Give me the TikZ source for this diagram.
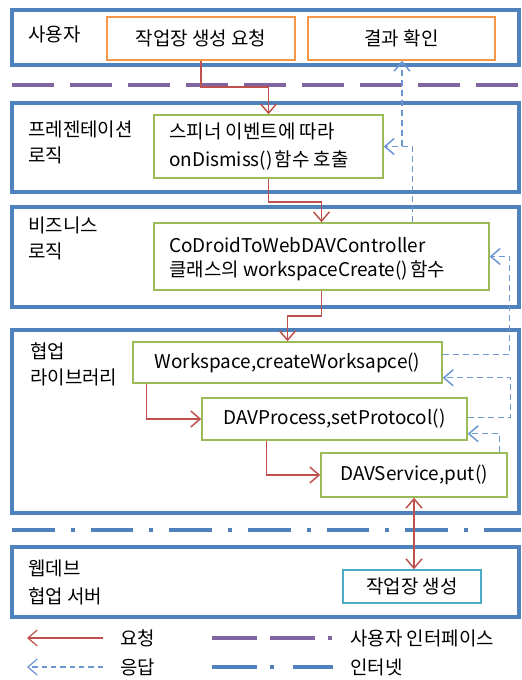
\documentclass[tikz,border=0pt]{standalone}
\usepackage{fontspec}
\setmainfont{Noto Sans CJK KR}
\usetikzlibrary{arrows.meta,fit,calc}
\definecolor{laneblue}{HTML}{4F81BD}
\definecolor{uipurple}{HTML}{8064A2}
\definecolor{reqred}{HTML}{C0504D}
\definecolor{resblue}{HTML}{6A97D2}
\definecolor{boxorange}{HTML}{F79646}
\definecolor{boxgreen}{HTML}{9BBB59}
\definecolor{boxcyan}{HTML}{4BACC6}
\begin{document}
\begin{tikzpicture}[x=0.75pt,y=-0.75pt,
  font=\fontsize{14.2}{19.5}\selectfont,
  lane/.style={draw=laneblue, line width=3pt, inner sep=0pt},
  obox/.style={draw=boxorange, line width=1.1pt, inner sep=0pt},
  gbox/.style={draw=boxgreen, line width=1.1pt, inner sep=0pt},
  cbox/.style={draw=boxcyan, line width=1.1pt, inner sep=0pt},
  lbl/.style={anchor=west, align=left, inner sep=0pt},
  txt/.style={inner sep=0pt},
  barb/.tip={Straight Barb[length=7pt,width=12pt]},
  req/.style={draw=reqred, line width=1.1pt, -barb},
  res/.style={draw=resblue, line width=1.1pt, dash pattern=on 4.5pt off 3pt, -barb},
  uiline/.style={draw=uipurple, line width=3.5pt, dash pattern=on 31.5pt off 12pt},
  netline/.style={draw=laneblue, line width=3.5pt, dash pattern=on 32pt off 12pt on 3pt off 12pt},
]
\useasboundingbox (0,0) rectangle (521,680);
\fill[white] (0,0) rectangle (521,680);

% lanes
\node[lane, fit={(12,10)(519,65)}] (lane1) {};
\node[lane, fit={(12,103)(519,192)}] (lane2) {};
\node[lane, fit={(12,207)(519,307)}] (lane3) {};
\node[lane, fit={(12,330)(519,513)}] (lane4) {};
\node[lane, fit={(12,547)(519,617)}] (lane5) {};

\node[lbl] (l1t) at (28,34) {사용자};
\node[lbl] (l2t) at (28,142) {프레젠테이션\\로직};
\node[lbl] (l3t) at (28,238) {비즈니스\\로직};
\node[lbl] (l4t) at (30,364) {협업\\라이브러리};
\node[lbl, font=\fontsize{14.2}{21}\selectfont] (l5t) at (28,582) {웹데브\\협업 서버};

% separators
\coordinate (ua) at (12,85);
\coordinate (ub) at (521,85);
\draw[uiline] (ua) -- (ub);
\coordinate (na) at (12,530);
\coordinate (nb) at (521,530);
\draw[netline] (na) -- (nb);

% boxes
\node[obox, fit={(107,17)(295,60)}] (reqb) {};
\node[txt] (reqt) at (reqb.center) {작업장 생성 요청};
\node[obox, fit={(308,17)(495,60)}] (resb) {};
\node[txt] (rest) at (resb.center) {결과 확인};

\node[gbox, fit={(154,115)(383,178)}] (g1) {};
\node[lbl, font=\fontsize{14.2}{20.5}\selectfont] (g1t) at (169,146.5) {스피너 이벤트에 따라\\onDismiss()\kern1.5pt함수 호출};

\node[gbox, fit={(154,223)(489,290)}] (b3) {};
\node[lbl, font=\fontsize{14.2}{18.5}\selectfont] (b3t) at (169,259) {CoDroidToWebDAVController\\클래스의 workspaceCreate()\kern1.5pt함수};

\node[gbox, fit={(133,342)(442,383)}] (ws) {};
\node[txt] (wst) at (ws.center) {Workspace,createWorksapce()};
\node[gbox, fit={(202,398)(467,440)}] (dp) {};
\node[txt] (dpt) at (dp.center) {DAVProcess,setProtocol()};
\node[gbox, fit={(321,453)(507,497)}] (dsv) {};
\node[txt] (dsvt) at (dsv.center) {DAVService,put()};

\node[cbox, fit={(343,570)(481,603)}] (srv) {};
\node[txt] (srvt) at (srv.center) {작업장 생성};

% request connectors
\coordinate (h1) at (0,87);
\draw[req] (reqb.south) |- (h1 -| g1.north) -- (g1.north);
\coordinate (h2) at (0,202);
\draw[req] (g1.south) |- (h2 -| b3.north) -- (b3.north);
\coordinate (h3) at (0,316);
\draw[req] (b3.south) |- (h3 -| ws.north) -- (ws.north);
\draw[req] ($(ws.south west)+(14,0)$) |- (dp.west);
\draw[req] ($(dp.south west)+(65,0)$) |- (dsv.west);
\draw[req, barb-barb] (dsv.south) -- (dsv.south |- srv.north);

% response connectors
\draw[res] ($(b3.north west)+(259,0)$) |- (g1.east);
\coordinate (r2) at (402,146.5);
\draw[res] (r2) -- (r2 |- resb.south);
\draw[res] ($(ws.north east)+(0,13)$) -| ($(b3.east)+(20,0)$) -- (b3.east);
\draw[res] ($(dp.north east)+(0,20)$) -| ($(ws.south east)+(68,-6)$) -- ($(ws.south east)+(0,-6)$);
\draw[res] ($(dsv.north west)+(179,0)$) |- ($(dp.south east)+(0,-7)$);

% legend
\coordinate (lr0) at (27,638);
\coordinate (lr1) at (103,638);
\draw[req, line width=0.9pt] (lr1) -- (lr0);
\node[lbl] (lrt) at (120,638) {요청};
\coordinate (lb0) at (27,667);
\coordinate (lb1) at (103,667);
\draw[res, line width=0.9pt, dash pattern=on 4pt off 3pt] (lb1) -- (lb0);
\node[lbl] (lbt) at (120,667) {응답};
\coordinate (lu0) at (212,638);
\coordinate (lu1) at (333,638);
\draw[draw=uipurple, line width=3pt, dash pattern=on 33.75pt off 9.75pt on 33.75pt off 9.75pt on 3pt off 20pt] (lu0) -- (lu1);
\node[lbl] (lut) at (350,638) {사용자 인터페이스};
\coordinate (ln0) at (212,667);
\coordinate (ln1) at (333,667);
\draw[draw=laneblue, line width=3pt, dash pattern=on 33.75pt off 9.75pt on 3pt off 14pt on 30pt off 10pt] (ln0) -- (ln1);
\node[lbl] (lnt) at (350,667) {인터넷};
\end{tikzpicture}
\end{document}
